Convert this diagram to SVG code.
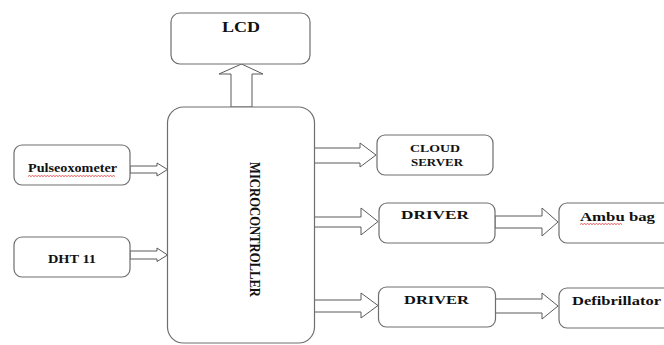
<svg xmlns="http://www.w3.org/2000/svg" width="664" height="345" viewBox="0 0 664 345">
<style>
.box{fill:#fff;stroke:#6e6e6e;stroke-width:1.2}
.arr{fill:#fff;stroke:#5a5a5a;stroke-width:1}
.t{font-family:"Liberation Serif","Times New Roman",serif;font-weight:bold;fill:#111}
.sq{fill:none;stroke:#e03030;stroke-width:0.8}
</style>
<rect width="664" height="345" fill="#fff"/>
<g id="connectors">
<polygon class="arr" points="231,107 231,74 219,74 241.5,64 263,74 252,74 252,107"/>
<polygon class="arr" points="130,166 157,166 157,163 167.5,169.5 157,176 157,173 130,173"/>
<polygon class="arr" points="130,251 157,251 157,248 167.5,255 157,261.5 157,259 130,259"/>
<polygon class="arr" points="314,148 360,148 360,143 376,155 360,167 360,163 314,163"/>
<polygon class="arr" points="314,217 361,217 361,208 378,221.5 361,235 361,227 314,227"/>
<polygon class="arr" points="495,216 542,216 542,208 558,222 542,236 542,228 495,228"/>
<polygon class="arr" points="314,300 361,300 361,293 378,305.5 361,318 361,312 314,312"/>
<polygon class="arr" points="495,299 542,299 542,293 558,306 542,319 542,313 495,313"/>
</g>
<g id="lcd">
<rect class="box" x="171" y="13" width="139" height="51" rx="9"/>
<text class="t" x="241" y="32" font-size="15" text-anchor="middle" textLength="38" lengthAdjust="spacingAndGlyphs">LCD</text>
</g>
<g id="microcontroller">
<rect class="box" x="167.5" y="107" width="147" height="236" rx="16"/>
<text class="t" transform="translate(250,229.5) rotate(90)" font-size="14" text-anchor="middle" textLength="135" lengthAdjust="spacingAndGlyphs">MICROCONTROLLER</text>
</g>
<g id="pulseoxometer">
<rect class="box" x="14" y="145" width="116" height="40" rx="8"/>
<text class="t" x="28" y="172" font-size="13" textLength="89" lengthAdjust="spacingAndGlyphs">Pulseoxometer</text>
<path class="sq" d="M28,176.5 l1.5,-1 l1.5,1 l1.5,-1 l1.5,1 l1.5,-1 l1.5,1 l1.5,-1 l1.5,1 l1.5,-1 l1.5,1 l1.5,-1 l1.5,1 l1.5,-1 l1.5,1 l1.5,-1 l1.5,1 l1.5,-1 l1.5,1 l1.5,-1 l1.5,1 l1.5,-1 l1.5,1 l1.5,-1 l1.5,1 l1.5,-1 l1.5,1 l1.5,-1 l1.5,1 l1.5,-1 l1.5,1 l1.5,-1 l1.5,1 l1.5,-1 l1.5,1 l1.5,-1 l1.5,1 l1.5,-1 l1.5,1 l1.5,-1 l1.5,1 l1.5,-1 l1.5,1 l1.5,-1 l1.5,1 l1.5,-1 l1.5,1 l1.5,-1 l1.5,1 l1.5,-1 l1.5,1 l1.5,-1 l1.5,1 l1.5,-1 l1.5,1 l1.5,-1 l1.5,1 l1.5,-1 l1.5,1"/>
</g>
<g id="dht11">
<rect class="box" x="14" y="237" width="116" height="40" rx="8"/>
<text class="t" x="48" y="263" font-size="12.5" textLength="48" lengthAdjust="spacingAndGlyphs">DHT 11</text>
</g>
<g id="cloud-server">
<rect class="box" x="377" y="135" width="116" height="40" rx="8"/>
<text class="t" x="435" y="152" font-size="11" text-anchor="middle" textLength="50" lengthAdjust="spacingAndGlyphs">CLOUD</text>
<text class="t" x="437" y="166" font-size="11" text-anchor="middle" textLength="52" lengthAdjust="spacingAndGlyphs">SERVER</text>
</g>
<g id="driver1">
<rect class="box" x="379" y="203" width="116" height="40" rx="8"/>
<text class="t" x="401" y="219" font-size="13" textLength="68" lengthAdjust="spacingAndGlyphs">DRIVER</text>
</g>
<g id="ambu-bag">
<rect class="box" x="559" y="203" width="120" height="40" rx="8"/>
<text class="t" x="580" y="221" font-size="13" textLength="75" lengthAdjust="spacingAndGlyphs">Ambu bag</text>
<path class="sq" d="M580,224.5 l1.5,-1 l1.5,1 l1.5,-1 l1.5,1 l1.5,-1 l1.5,1 l1.5,-1 l1.5,1 l1.5,-1 l1.5,1 l1.5,-1 l1.5,1 l1.5,-1 l1.5,1 l1.5,-1 l1.5,1 l1.5,-1 l1.5,1 l1.5,-1 l1.5,1 l1.5,-1 l1.5,1 l1.5,-1 l1.5,1 l1.5,-1 l1.5,1 l1.5,-1 l1.5,1"/>
</g>
<g id="driver2">
<rect class="box" x="378.5" y="287" width="117" height="40" rx="8"/>
<text class="t" x="404" y="304" font-size="13" textLength="65" lengthAdjust="spacingAndGlyphs">DRIVER</text>
</g>
<g id="defibrillator">
<rect class="box" x="559" y="288" width="120" height="40" rx="8"/>
<text class="t" x="572" y="305" font-size="13" textLength="89" lengthAdjust="spacingAndGlyphs">Defibrillator</text>
</g>
</svg>
